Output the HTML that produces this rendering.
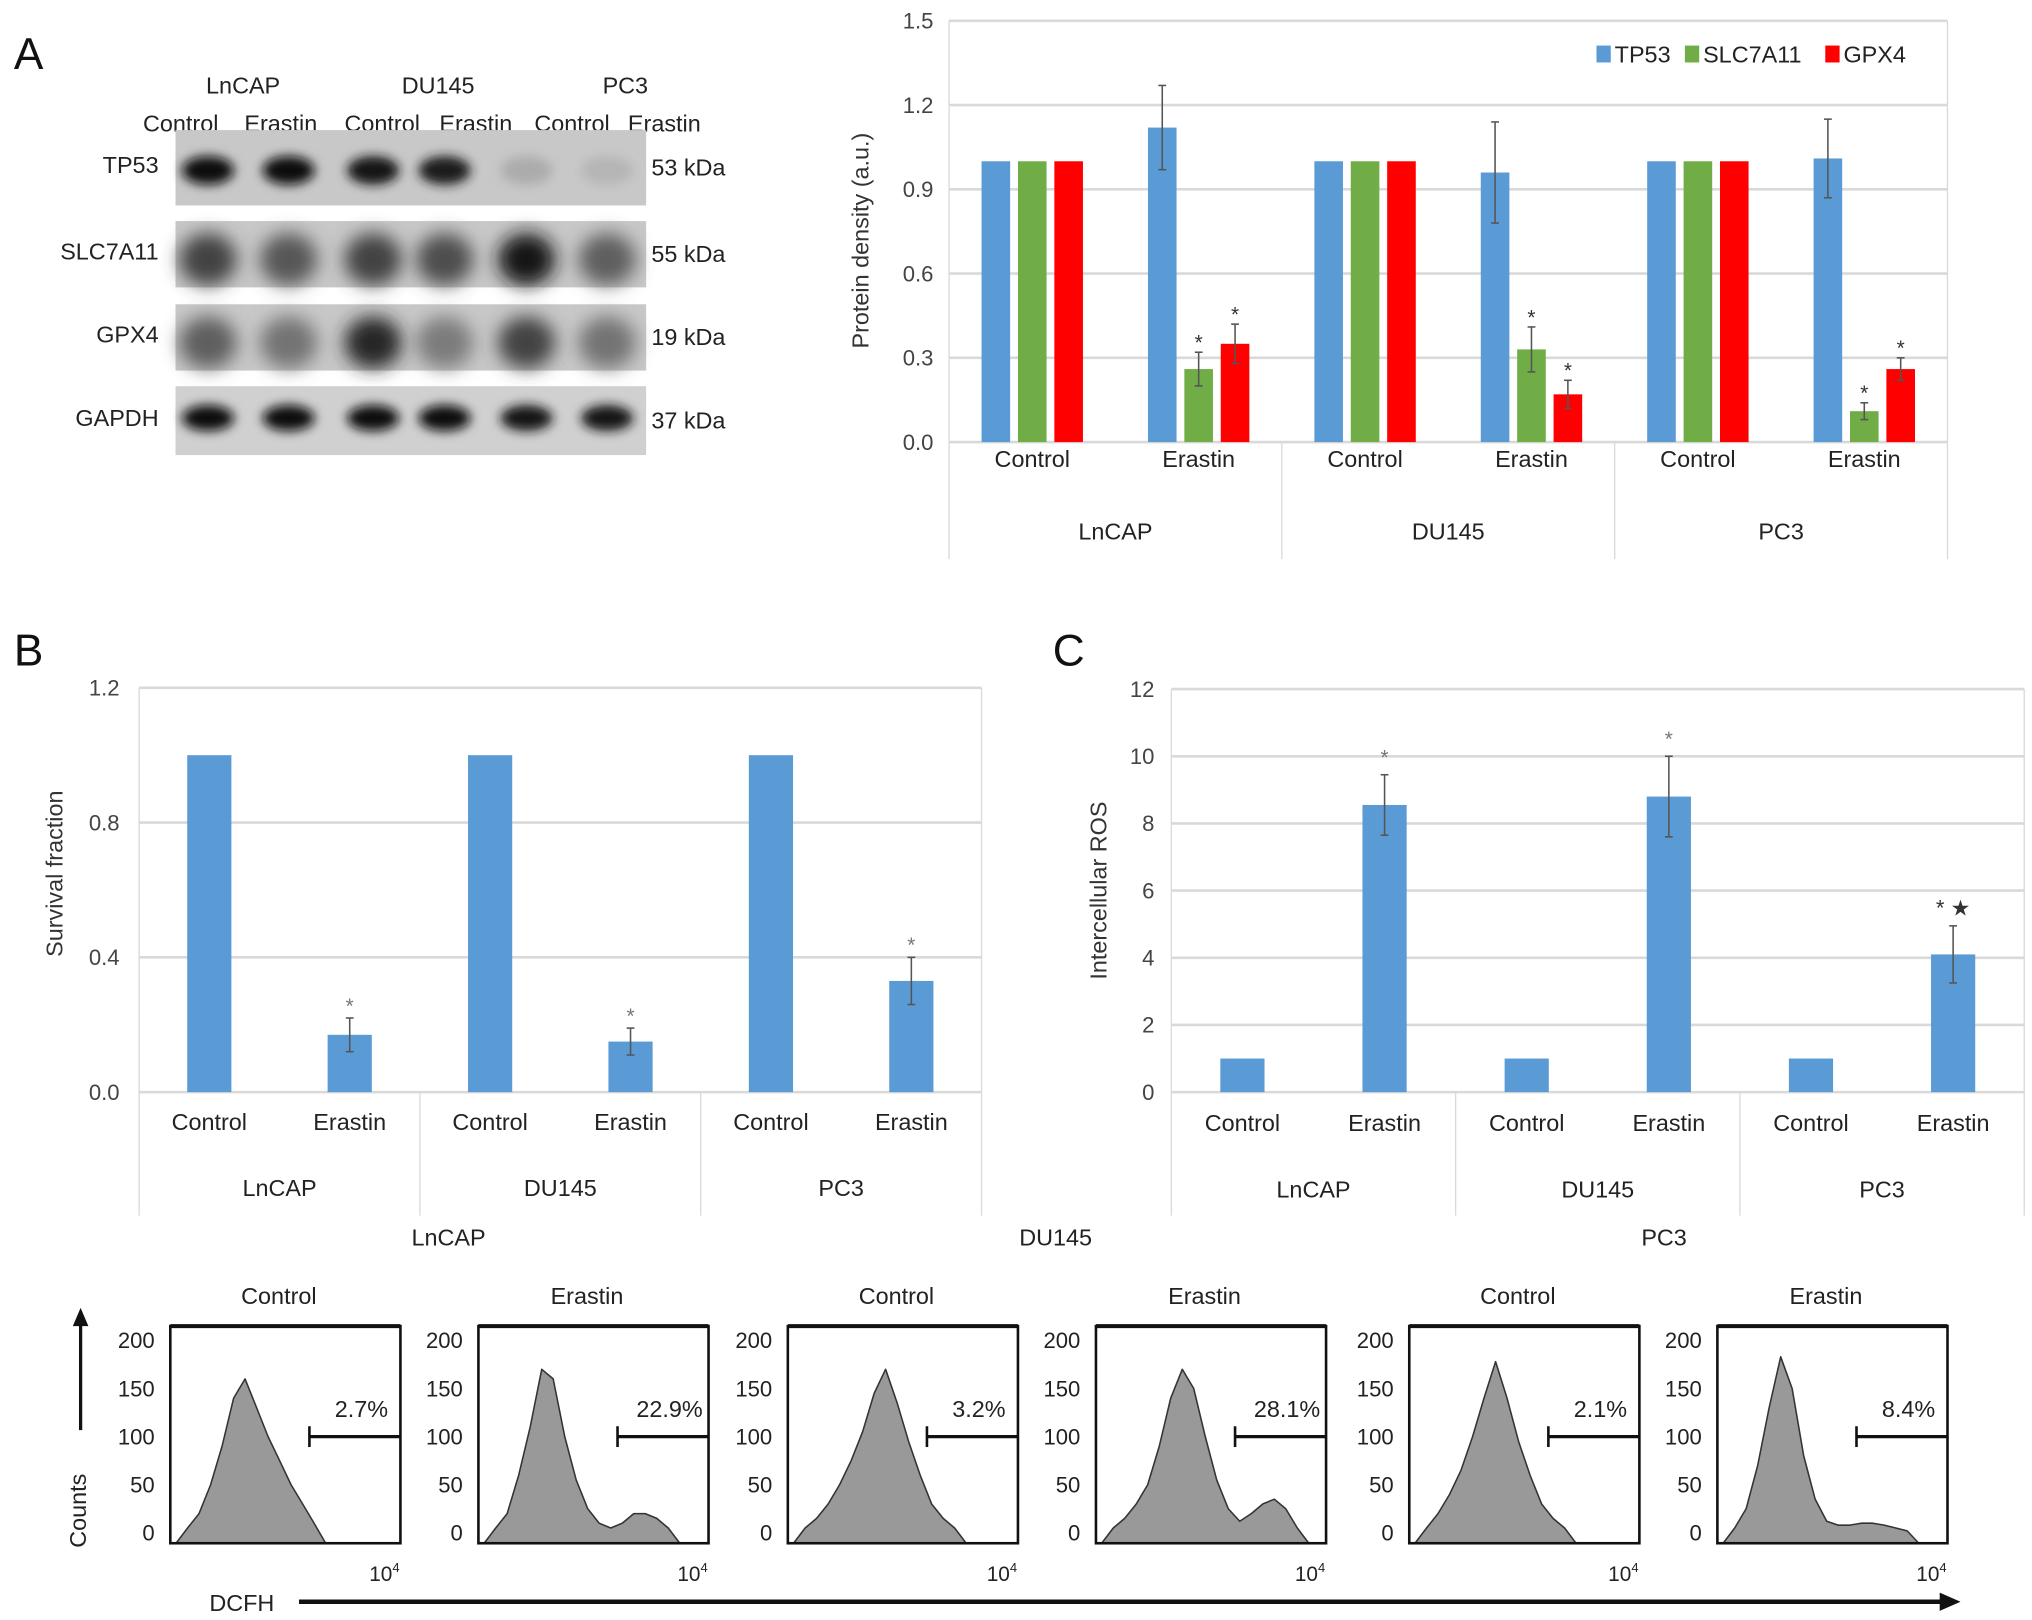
<!DOCTYPE html>
<html><head><meta charset="utf-8"><style>
html,body{margin:0;padding:0;background:#fff;width:2032px;height:1620px;overflow:hidden}
svg{display:block;font-family:"Liberation Sans",Arial,sans-serif}
</style></head><body>
<svg id="fig" width="2032" height="1620" viewBox="0 0 1563 1246" xmlns="http://www.w3.org/2000/svg">
<defs>
<filter id="blur3" x="-50%" y="-50%" width="200%" height="200%"><feGaussianBlur stdDeviation="4"/></filter>
<filter id="blur6" x="-50%" y="-50%" width="200%" height="200%"><feGaussianBlur stdDeviation="7"/></filter>
</defs>
</svg>
<script>
// ---------- DATA ----------
const cellLines = ["LnCAP","DU145","PC3"];
const treatments = ["Control","Erastin"];
const proteins = ["TP53","SLC7A11","GPX4"];
const proteinColors = ["#5b9bd5","#70ad47","#ff0000"];
const densTP53 = [1,1.12, 1,0.96, 1,1.01];
const densSLC = [1,0.26, 1,0.33, 1,0.11];
const densGPX = [1,0.35, 1,0.17, 1,0.26];
const errTP53 = [0,0.15, 0,0.18, 0,0.14];
const errSLC = [0,0.06, 0,0.08, 0,0.03];
const errGPX = [0,0.07, 0,0.05, 0,0.04];
const ticksA = [0,0.3,0.6,0.9,1.2,1.5];
const survival = [1,0.17, 1,0.15, 1,0.33];
const survErr = [0,0.05, 0,0.04, 0,0.07];
const ticksB = [0,0.4,0.8,1.2];
const ros = [1,8.55, 1,8.8, 1,4.1];
const rosErr = [0,0.9, 0,1.2, 0,0.85];
const ticksC = [0,2,4,6,8,10,12];
const histLabels = ["Control","Erastin","Control","Erastin","Control","Erastin"];
const histPct = ["2.7%","22.9%","3.2%","28.1%","2.1%","8.4%"];
const hist0 = [0,5,20,50,90,140,160,130,100,75,50,30,10,0,0,0,0,0,0,0];
const hist1 = [0,5,20,60,110,170,160,100,55,25,10,5,10,20,20,15,5,0,0,0];
const hist2 = [0,5,15,30,50,75,105,145,170,135,95,60,30,15,5,0,0,0,0,0];
const hist3 = [0,5,15,30,50,90,140,170,150,100,55,25,12,20,30,35,25,5,0,0];
const hist4 = [0,5,20,40,65,100,140,178,140,95,60,30,15,5,0,0,0,0,0,0];
const hist5 = [0,5,25,70,130,183,150,80,35,12,8,8,10,10,8,5,2,0,0,0];
const histTicks = [0,50,100,150,200];
const blotRows = ["TP53","SLC7A11","GPX4","GAPDH"];
const blotKDa = ["53 kDa","55 kDa","19 kDa","37 kDa"];
const blotTP53 = [1,1,0.95,0.9,0.15,0.1];
const blotSLC = [0.7,0.6,0.7,0.65,0.95,0.55];
const blotGPX = [0.55,0.45,0.85,0.4,0.7,0.45];
const blotGAPDH = [1,1,1,1,0.95,0.95];

// ---------- HELPERS ----------
const svg = document.getElementById('fig');
const NS = "http://www.w3.org/2000/svg";
function el(tag, attrs, parent){const e=document.createElementNS(NS,tag);for(const k in attrs)e.setAttribute(k,attrs[k]);(parent||svg).appendChild(e);return e;}
function txt(s,x,y,size,anchor,fill,parent){const t=el('text',{x:x,y:y,'font-size':size,'text-anchor':anchor||'middle',fill:fill||'#222'},parent);t.textContent=s;return t;}
function grp(){return el('g',{});}

[["A",22,53],["B",22,512],["C",822,512]].forEach(p=>{const t=txt(p[0],p[1],p[2],34,'middle','#111');

});

// ---------- WESTERN BLOT ----------
const blot = grp();


const laneX=[160,222,287,342,405,467];
[["LnCAP",187],["DU145",337],["PC3",481]].forEach(h=>{const t=txt(h[0],h[1],72,18,'middle','#222',blot);

});
const laneLabX=[139,216,294,366,440,511];
laneLabX.forEach((x,i)=>{const t=txt(treatments[i%2],x,101,18,'middle','#222',blot);

});
const rowY=[[100,158],[170,221],[234,285],[297,350]];
const blotVals=[blotTP53,blotSLC,blotGPX,blotGAPDH];
rowY.forEach((r,ri)=>{
  const g=el('g',{},blot);
  
  
  el('rect',{x:135,y:r[0],width:362,height:r[1]-r[0],fill:ri==3?'#d0d0d0':'#c8c8c8'},g);
  const cy=(r[0]+r[1])/2+(ri==0?2:ri==3?-2:4);
  blotVals[ri].forEach((v,li)=>{
    const c=Math.round(200-190*v);
    if(ri==0||ri==3){
      el('ellipse',{cx:laneX[li],cy:cy,rx:20,ry:ri==0?11:10,fill:`rgb(${c},${c},${c})`,filter:'url(#blur3)'},g);
    } else {
      el('ellipse',{cx:laneX[li],cy:cy,rx:22,ry:20,fill:`rgb(${c},${c},${c})`,filter:'url(#blur6)'},g);
    }
  });
  const l=txt(blotRows[ri],122,(r[0]+r[1])/2+4,18,'end','#222',g);
  
  
  const k=txt(blotKDa[ri],501,(r[0]+r[1])/2+6,18,'start','#222',g);
  
  
});

function categoryAxes(g,x0,x1,y0,yTop,ticks,fmt,labY1,labY2,sepBottom,tickX){
  const vmax=ticks[ticks.length-1];
  const ys=v=>y0-(v/vmax)*(y0-yTop);
  ticks.forEach(t=>{
    const l=el('line',{x1:x0,x2:x1,y1:ys(t),y2:ys(t),stroke:'#d9d9d9','stroke-width':2},g);
    
    
    const tl=txt(fmt(t),tickX,ys(t)+6,17,'end','#444',g);
    
    
  });
  const gw=(x1-x0)/3;
  for(let i=0;i<=3;i++){
    const s=el('line',{x1:x0+i*gw,x2:x0+i*gw,y1:i==0||i==3?yTop:y0,y2:sepBottom,stroke:'#d9d9d9','stroke-width':1},g);
    
    
  }
  cellLines.forEach((c,ci)=>{
    treatments.forEach((t,ti)=>{
      const tl=txt(t,x0+ci*gw+gw/4+ti*gw/2,labY1,18,'middle','#222',g);
      
      
    });
    const cl=txt(c,x0+ci*gw+gw/2,labY2,18,'middle','#222',g);
    
    
  });
  return ys;
}
function errBar(g,cx,top,bot){
  el('line',{x1:cx,x2:cx,y1:top,y2:bot,stroke:'#555','stroke-width':1.2},g);
  el('line',{x1:cx-3,x2:cx+3,y1:top,y2:top,stroke:'#555','stroke-width':1.2},g);
  el('line',{x1:cx-3,x2:cx+3,y1:bot,y2:bot,stroke:'#555','stroke-width':1.2},g);
}

// ---------- PANEL A CHART ----------
const gA=grp();


const xA0=730,xA1=1498;
const ysA=categoryAxes(gA,xA0,xA1,340,16,ticksA,v=>v.toFixed(1),359,415,430,718);
const tA=txt("Protein density (a.u.)",0,0,18,'middle','#333',gA);
tA.setAttribute('transform','translate(668,185) rotate(-90)');


const densArr=[densTP53,densSLC,densGPX], errArr=[errTP53,errSLC,errGPX];
const gwA=(xA1-xA0)/3;
for(let ci=0;ci<3;ci++)for(let ti=0;ti<2;ti++){
  const k=ci*2+ti; const cc=xA0+ci*gwA+gwA/4+ti*gwA/2;
  for(let p=0;p<3;p++){
    const cx=cc+(p-1)*28, v=densArr[p][k];
    const b=el('rect',{x:cx-11,y:ysA(v),width:22,height:ysA(0)-ysA(v),fill:proteinColors[p]},gA);
    
    
    const e=errArr[p][k];
    if(e>0){errBar(gA,cx,ysA(v+e),ysA(v-e));
      if(p>0){const s=txt('*',cx,ysA(v+e)-2,16,'middle','#333',gA);
        
        }}
  }
}
const legX=[1228,1296,1404];
proteins.forEach((p,i)=>{
  const lg=el('g',{},gA);
  
  
  el('rect',{x:legX[i],y:35,width:11,height:13,fill:proteinColors[i]},lg);
  txt(p,legX[i]+14,48,18,'start','#222',lg);
});

// ---------- PANEL B ----------
const gB=grp();


const xB0=107,xB1=755;
const ysB=categoryAxes(gB,xB0,xB1,840,529,ticksB,v=>v.toFixed(1),869,920,935,92);
const tB=txt("Survival fraction",0,0,18,'middle','#333',gB);
tB.setAttribute('transform','translate(48,672) rotate(-90)');


const gwB=(xB1-xB0)/3;
survival.forEach((v,k)=>{
  const ci=Math.floor(k/2),ti=k%2, cx=xB0+ci*gwB+gwB/4+ti*gwB/2;
  const b=el('rect',{x:cx-17,y:ysB(v),width:34,height:ysB(0)-ysB(v),fill:'#5b9bd5'},gB);
  
  
  const e=survErr[k];
  if(e>0){errBar(gB,cx,ysB(v+e),ysB(v-e));
    const s=txt('*',cx,ysB(v+e)-4,16,'middle','#777',gB);
    
    }
});

// ---------- PANEL C ----------
const gC=grp();


const xC0=901,xC1=1557;
const ysC=categoryAxes(gC,xC0,xC1,840,530,ticksC,v=>String(v),870,921,935,888);
const tC=txt("Intercellular ROS",0,0,18,'middle','#333',gC);
tC.setAttribute('transform','translate(851,685) rotate(-90)');


const gwC=(xC1-xC0)/3;
ros.forEach((v,k)=>{
  const ci=Math.floor(k/2),ti=k%2, cx=xC0+ci*gwC+gwC/4+ti*gwC/2;
  const b=el('rect',{x:cx-17,y:ysC(v),width:34,height:ysC(0)-ysC(v),fill:'#5b9bd5'},gC);
  
  
  const e=rosErr[k];
  if(e>0){errBar(gC,cx,ysC(v+e),ysC(v-e));
    const s=txt(ci==2?'*  ★':'*',cx,ysC(v+e)-8,ci==2?17:16,'middle',ci==2?'#333':'#777',gC);
    
    }
});

// ---------- FLOW CYTOMETRY ----------
const gF=grp();


[["LnCAP",345],["DU145",812],["PC3",1280]].forEach(h=>{const t=txt(h[0],h[1],958,18,'middle','#222',gF);

});
const hists=[hist0,hist1,hist2,hist3,hist4,hist5];
const boxL=[131,368,606,843,1084,1321], boxW=177, boxT=1020, boxB=1187;
const yH=v=>1179-v/200*148;
hists.forEach((h,i)=>{
  const g=el('g',{},gF);
  
  
  const L=boxL[i];
  txt(histLabels[i],L+boxW/2-5,1003,18,'middle','#222',g);
  histTicks.forEach(t=>{const tl=txt(String(t),L-12,yH(t)+6,17,'end','#222',g);
    
    });
  let d=`M${L},${boxB} `;
  h.forEach((v,j)=>{const x=L+(j+0.5)/h.length*boxW; d+=`L${x.toFixed(1)},${(v==0?boxB:yH(v)).toFixed(1)} `;});
  d+=`L${L+boxW},${boxB} Z`;
  const p=el('path',{d:d,fill:'#999',stroke:'#333','stroke-width':1.2,'stroke-linejoin':'round'},g);
  
  
  el('rect',{x:L,y:boxT,width:boxW,height:boxB-boxT,fill:'none',stroke:'#111','stroke-width':2},g);
  el('line',{x1:L,x2:L+boxW,y1:boxT,y2:boxT,stroke:'#111','stroke-width':3},g);
  const gx=L+107;
  const gate=el('g',{},g);
  
  
  el('line',{x1:gx,x2:L+boxW,y1:1105,y2:1105,stroke:'#111','stroke-width':2.5},gate);
  el('line',{x1:gx,x2:gx,y1:1097,y2:1113,stroke:'#111','stroke-width':2},gate);
  txt(histPct[i],L+boxW-30,1090,18,'middle','#222',gate);
  const tk=el('text',{x:L+boxW-24,y:1216,'font-size':16,'text-anchor':'start',fill:'#222'},g);
  tk.textContent='10';
  const sup=el('tspan',{dy:-7,'font-size':10},tk); sup.textContent='4';
});
const ca=el('g',{},gF);


el('line',{x1:62,x2:62,y1:1100,y2:1018,stroke:'#111','stroke-width':2.5},ca);
el('polygon',{points:'56,1020 68,1020 62,1006',fill:'#111'},ca);
const ct=txt('Counts',0,0,18,'middle','#222',ca);
ct.setAttribute('transform','translate(66,1162) rotate(-90)');
const da=el('g',{},gF);


txt('DCFH',186,1239,18,'middle','#222',da);
el('line',{x1:230,x2:1494,y1:1232,y2:1232,stroke:'#111','stroke-width':3.5},da);
el('polygon',{points:'1492,1225 1508,1232 1492,1239',fill:'#111'},da);
</script>
</body></html>
